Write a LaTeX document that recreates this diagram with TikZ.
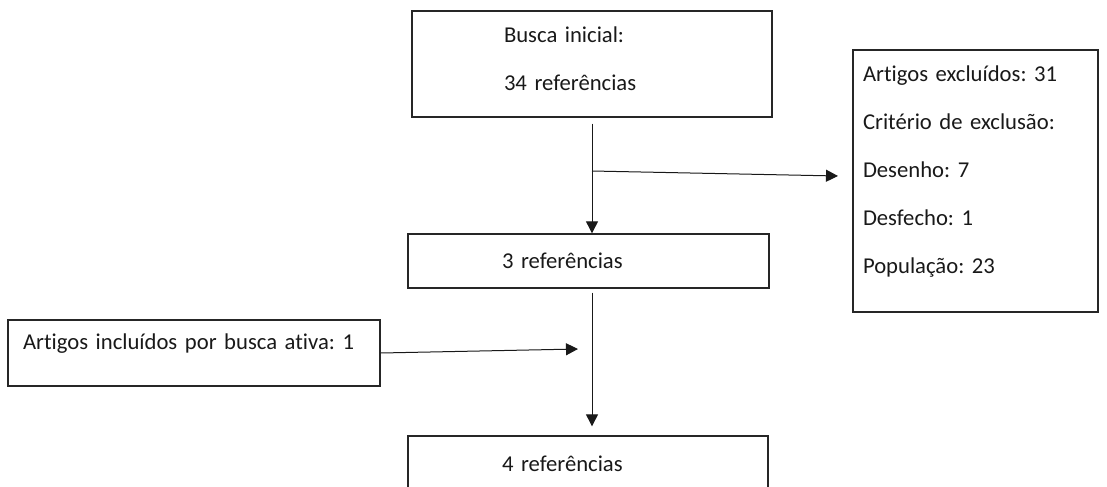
\documentclass[tikz,border=0pt]{standalone}
\usepackage{fontspec}
\setmainfont{Carlito}[Ligatures=NoCommon]
\usetikzlibrary{arrows.meta}
\frenchspacing

\begin{document}
\begin{tikzpicture}[x=0.75pt, y=-0.75pt,
  caixa/.style={draw=black!85, line width=1pt, align=left, text=black!90,
    font=\fontsize{17}{36}\selectfont, inner ysep=0pt},
  seta/.style={draw=black!90, line width=0.75pt, -{Triangle[length=9pt, width=9pt]}}]
\useasboundingbox (0,0) rectangle (1107,486);
\clip (0,0) rectangle (1107,486);
% caixas
\node[caixa, minimum width=270pt, minimum height=79.5pt, text width=132pt, inner xsep=69pt] (busca) at (592,64) {Busca inicial:\\34 referências\rule[-7.5pt]{0pt}{7.5pt}};
\node[caixa, minimum width=270.75pt, minimum height=40.5pt, text width=129.75pt, inner xsep=70.5pt] (ref3) at (588.5,261) {3 referências};
\node[caixa, minimum width=270pt, minimum height=42pt, text width=129pt, inner xsep=70.5pt] (ref4) at (588,464) {4 referências};
\node[caixa, minimum width=279pt, minimum height=49.5pt, text width=256.5pt, inner xsep=11.25pt] (ativa) at (194,353) {Artigos incluídos por busca ativa: 1\rule[-16.5pt]{0pt}{16.5pt}};
\node[caixa, minimum width=183.75pt, minimum height=196.5pt, text width=168.75pt, inner xsep=7.5pt] (excl) at (975.5,181) {Artigos excluídos: 31\\Critério de exclusão:\\Desenho: 7\\Desfecho: 1\\População: 23\rule[-16.5pt]{0pt}{16.5pt}};
% setas
\coordinate (ramo) at (592,171);
\coordinate (ramofim) at (838,176);
\coordinate (ativafim) at (578,349);
\draw[seta, shorten <=4.5pt] (busca.south) -- (busca.south |- ref3.north);
\draw[seta] (ramo) -- (ramofim);
\draw[seta, shorten <=3pt, shorten >=6.75pt] (busca.south |- ref3.south) -- (busca.south |- ref4.north);
\draw[seta] (ativa.east) -- (ativafim);
\end{tikzpicture}
\end{document}
